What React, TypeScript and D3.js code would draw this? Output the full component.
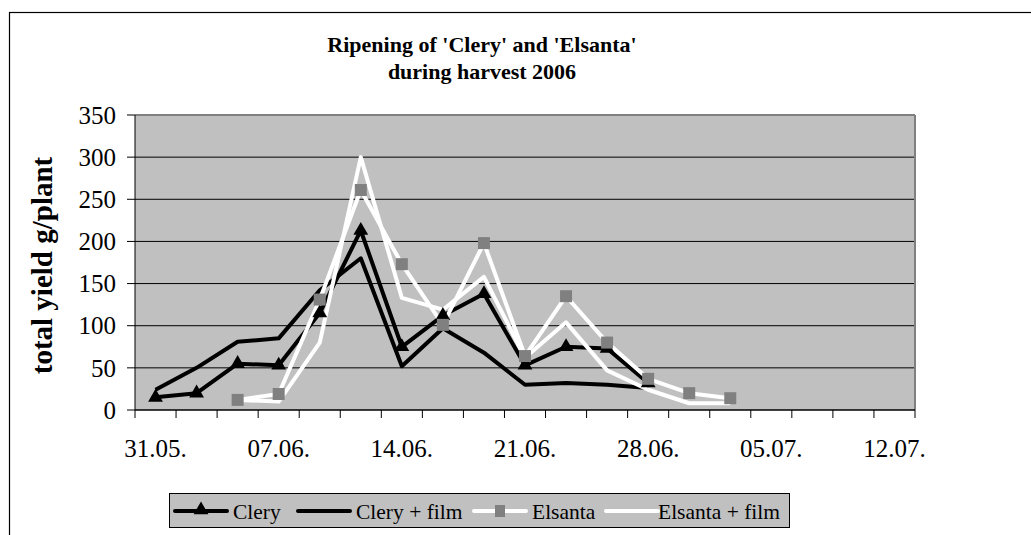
import React from "react";
import * as d3 from "d3";

// harvest dates (category axis), only every third one is labelled
const categories = [
  "31.05.", "02.06.", "05.06.", "07.06.", "09.06.", "12.06.", "14.06.",
  "16.06.", "19.06.", "21.06.", "23.06.", "26.06.", "28.06.", "30.06.",
  "03.07.", "05.07.", "07.07.", "10.07.", "12.07.",
];

// yield in g/plant per harvest date
const clery = [15, 20, 55, 53, 115, 213, 75, 112, 138, 53, 75, 73, 32];
const cleryFilm = [24, 50, 81, 85, 142, 180, 52, 97, 68, 30, 32, 30, 26];
const elsanta = [null, null, 12, 19, 131, 261, 173, 101, 198, 64, 135, 80, 37, 20, 14];
const elsantaFilm = [null, null, 12, 10, 80, 300, 133, 119, 158, 62, 104, 47, 24, 8, 8];

const yTicks = [0, 50, 100, 150, 200, 250, 300, 350];

const series = [
  { name: "Clery", values: clery, color: "#000000", marker: "triangle" },
  { name: "Clery + film", values: cleryFilm, color: "#000000", marker: null },
  { name: "Elsanta", values: elsanta, color: "#ffffff", marker: "square" },
  { name: "Elsanta + film", values: elsantaFilm, color: "#ffffff", marker: null },
];

const font = "'Liberation Serif', 'Times New Roman', serif";

const App = () => {
  const width = 1031;
  const height = 535;
  const left = 135;
  const right = 915;
  const top = 115;
  const bottom = 410;

  const x = d3.scaleBand<string>().domain(categories).range([left, right]);
  const y = d3.scaleLinear().domain([0, 350]).range([bottom, top]);
  const cx = (i: number) => (x(categories[i]) as number) + x.bandwidth() / 2;

  const line = d3
    .line<number | null>()
    .defined((d) => d != null)
    .x((_, i) => cx(i))
    .y((d) => y(d as number));

  const triangle = d3.symbol().type(d3.symbolTriangle).size(95)();

  // legend layout
  const legendItems = [
    { lineX: 175, textX: 233 },
    { lineX: 298, textX: 356 },
    { lineX: 474, textX: 532 },
    { lineX: 606, textX: 658 },
  ];
  const legendY = 511;

  return (
    <svg
      width={width}
      height={height}
      style={{ position: "absolute", left: 0, top: 0, background: "#fff" }}
    >
      {/* outer chart border */}
      <rect x={9.5} y={12.5} width={1040} height={540} fill="none" stroke="#000" strokeWidth={1.2} />

      {/* title */}
      <text x={482} y={52} textAnchor="middle" fontFamily={font} fontWeight="bold" fontSize={22}>
        Ripening of 'Clery' and 'Elsanta'
      </text>
      <text x={482} y={79} textAnchor="middle" fontFamily={font} fontWeight="bold" fontSize={22}>
        during harvest 2006
      </text>

      {/* plot area */}
      <rect x={left} y={top} width={right - left} height={bottom - top} fill="#c0c0c0" />
      {yTicks.slice(1, -1).map((t) => (
        <line key={t} x1={left} x2={right} y1={y(t)} y2={y(t)} stroke="#000" strokeWidth={1} />
      ))}
      <line x1={left} x2={right} y1={top} y2={top} stroke="#808080" strokeWidth={2} />
      <line x1={right} x2={right} y1={top} y2={bottom} stroke="#808080" strokeWidth={2} />

      {/* y axis */}
      <line x1={left} x2={left} y1={top} y2={bottom} stroke="#000" strokeWidth={1} />
      {yTicks.map((t) => (
        <g key={t}>
          <line x1={left - 8} x2={left} y1={y(t)} y2={y(t)} stroke="#000" />
          <text x={116} y={y(t)} dy="0.35em" textAnchor="end" fontFamily={font} fontSize={25}>
            {t}
          </text>
        </g>
      ))}
      <text
        transform={`translate(52,${(top + bottom) / 2 + 3}) rotate(-90)`}
        textAnchor="middle"
        fontFamily={font}
        fontWeight="bold"
        fontSize={29}
      >
        total yield g/plant
      </text>

      {/* x axis */}
      <line x1={left} x2={right} y1={bottom} y2={bottom} stroke="#000" strokeWidth={1.5} />
      {categories.map((c) => (
        <line
          key={c}
          x1={x(c) as number}
          x2={x(c) as number}
          y1={bottom}
          y2={bottom + 8}
          stroke="#000"
        />
      ))}
      <line x1={right} x2={right} y1={bottom} y2={bottom + 8} stroke="#000" />
      {categories.map((c, i) =>
        i % 3 === 0 ? (
          <text key={c} x={cx(i)} y={457} textAnchor="middle" fontFamily={font} fontSize={25}>
            {c}
          </text>
        ) : null
      )}

      {/* series lines */}
      {series.map((s) => (
        <path
          key={s.name}
          d={line(s.values) as string}
          fill="none"
          stroke={s.color}
          strokeWidth={4}
          strokeLinejoin="round"
        />
      ))}

      {/* markers */}
      {series.map((s) =>
        s.values.map((v, i) => {
          if (v == null || !s.marker) return null;
          if (s.marker === "triangle") {
            return (
              <path key={s.name + i} d={triangle as string} transform={`translate(${cx(i)},${y(v)})`} fill="#000" />
            );
          }
          return <rect key={s.name + i} x={cx(i) - 6} y={y(v) - 6} width={12} height={12} fill="#808080" />;
        })
      )}

      {/* legend */}
      <rect x={169.5} y={493.5} width={620} height={34} fill="#c0c0c0" stroke="#000" strokeWidth={1} />
      {series.map((s, i) => {
        const it = legendItems[i];
        const mid = it.lineX + 26;
        return (
          <g key={s.name}>
            <line
              x1={it.lineX}
              x2={it.lineX + 52}
              y1={legendY}
              y2={legendY}
              stroke={s.color}
              strokeWidth={4}
              strokeLinecap="round"
            />
            {s.marker === "triangle" && (
              <path d={triangle as string} transform={`translate(${mid},${legendY - 1})`} fill="#000" />
            )}
            {s.marker === "square" && <rect x={mid - 5} y={legendY - 6} width={10} height={12} fill="#808080" />}
            <text x={it.textX} y={legendY} dy="0.35em" fontFamily={font} fontSize={21.5}>
              {s.name}
            </text>
          </g>
        );
      })}
    </svg>
  );
};

export default App;
